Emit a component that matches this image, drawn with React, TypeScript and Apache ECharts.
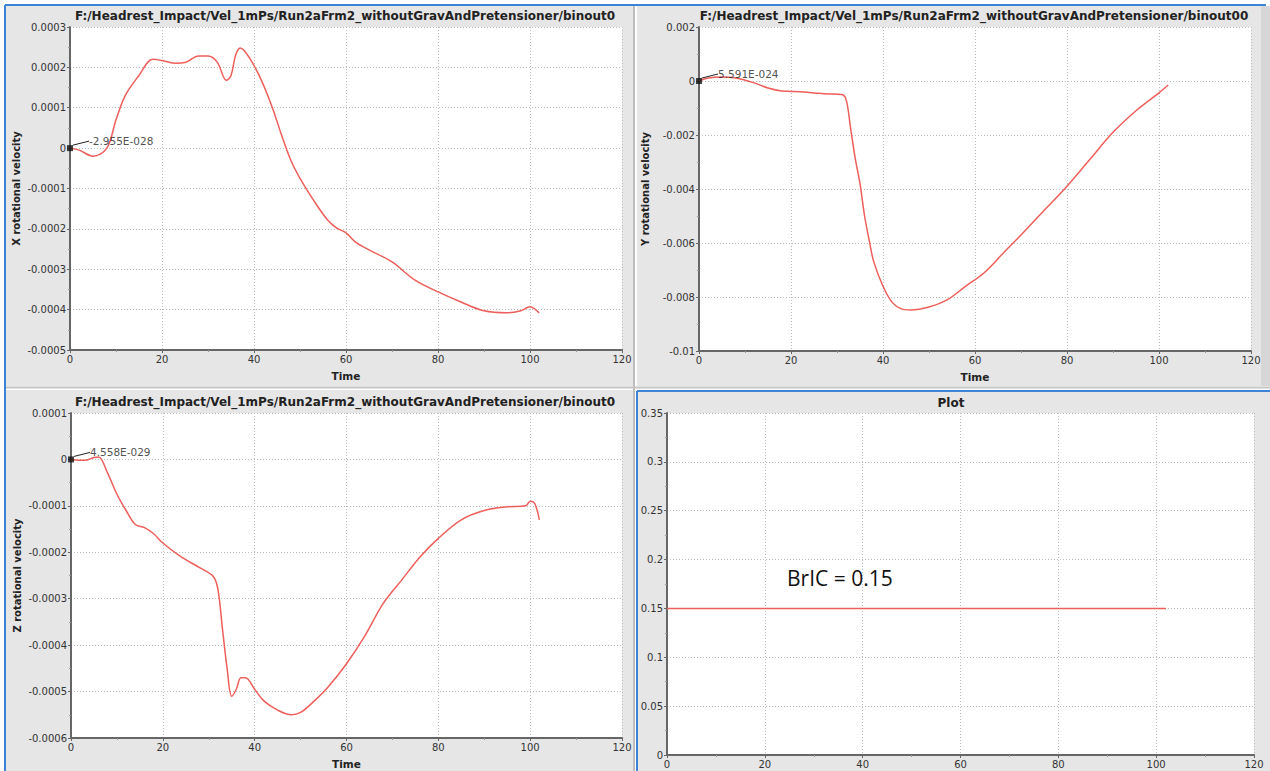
import React, { useEffect, useRef } from "react";
import * as echarts from "echarts";

// ---------- data ----------
const titleTop = "F:/Headrest_Impact/Vel_1mPs/Run2aFrm2_withoutGravAndPretensioner/binout0";
const titleTopRight = "F:/Headrest_Impact/Vel_1mPs/Run2aFrm2_withoutGravAndPretensioner/binout00";
const titlePlot = "Plot";

const xTicks = [0, 20, 40, 60, 80, 100, 120];

// X rotational velocity
const xRotTime = [0, 2, 5, 8, 10, 12, 15, 18, 20, 23, 25, 28, 30, 32, 34, 35, 36, 37, 38, 40, 42, 44, 46, 48, 50, 53, 56, 58, 60, 62, 65, 70, 75, 80, 85, 90, 95, 98, 100, 101, 102];
const xRotVal = [0, -0.000005, -0.00002, 0.0, 0.00007, 0.00013, 0.00018, 0.00022, 0.000217, 0.00021, 0.000212, 0.000228, 0.000228, 0.000213, 0.000168, 0.00018, 0.00023, 0.000248, 0.00024, 0.000205, 0.000158, 0.0001, 0.000032, -0.00003, -0.000075, -0.00013, -0.000178, -0.000198, -0.00021, -0.000232, -0.000252, -0.000282, -0.000327, -0.000356, -0.000381, -0.000403, -0.000408, -0.000403, -0.000393, -0.000398, -0.000408];

// Y rotational velocity
const yRotTime = [0, 2, 5, 8, 12, 15, 18, 22, 25, 28, 31, 32, 33, 34, 35, 36, 37, 38, 40, 42, 44, 46, 50, 54, 58, 62, 66, 70, 75, 80, 85, 90, 95, 100, 102];
const yRotVal = [0, 0.00011, 0.00015, 0.00011, -0.00007, -0.00026, -0.00037, -0.0004, -0.00044, -0.00048, -0.0005, -0.0007, -0.0018, -0.0029, -0.0038, -0.005, -0.0059, -0.0067, -0.0076, -0.0082, -0.00844, -0.00848, -0.00837, -0.0081, -0.0076, -0.0071, -0.0064, -0.0057, -0.0048, -0.0039, -0.0029, -0.0019, -0.0011, -0.00044, -0.00015];

// Z rotational velocity
const zRotTime = [0, 3, 5, 6, 8, 10, 12, 14, 16, 18, 20, 24, 28, 31, 32, 33, 34, 35, 36, 37, 38, 40, 42, 45, 48, 50, 53, 56, 60, 64, 68, 72, 76, 80, 85, 90, 95, 99, 100, 101, 102];
const zRotVal = [0, -0.000002, 0.000004, 0.000005, -0.00003, -0.000075, -0.00011, -0.00014, -0.000147, -0.00016, -0.00018, -0.00021, -0.000233, -0.000252, -0.00028, -0.000366, -0.00045, -0.00051, -0.000495, -0.00047, -0.00047, -0.000495, -0.00052, -0.00054, -0.00055, -0.000545, -0.00052, -0.00049, -0.00044, -0.00038, -0.00031, -0.00026, -0.00021, -0.00017, -0.00013, -0.00011, -0.000102, -0.0001, -0.00009, -0.000095, -0.00013];

// BrIC
const bricTime = [0, 102];
const bricVal = [0.15, 0.15];
const bricText = "BrIC = 0.15";

const annotations = ["-2.955E-028", "5.591E-024", "4.558E-029"];

const yNames = ["X rotational velocity", "Y rotational velocity", "Z rotational velocity"];

// ---------- styling ----------
const LINE = "#ee5f5b";
const AXIS = "#666";
const GRIDC = "#bdbdbd";
const PANEL = "#e6e6e6";
const BLUE = "#3d84d6";
const FONT = "DejaVu Sans";

const pairs = (t: number[], v: number[]) => t.map((x, i) => [x, v[i]]);

function xAxis(gridIndex: number, showName: boolean) {
  return {
    type: "value",
    gridIndex,
    min: xTicks[0],
    max: xTicks[xTicks.length - 1],
    interval: xTicks[1] - xTicks[0],
    name: showName ? "Time" : "",
    nameLocation: "middle",
    nameGap: 20,
    nameTextStyle: { fontFamily: FONT, fontWeight: "bold", fontSize: 10.5, color: "#222" },
    axisLine: { show: true, onZero: false, lineStyle: { color: AXIS, width: 2 } },
    axisTick: { show: true, length: 3, lineStyle: { color: AXIS } },
    minorTick: { show: true, splitNumber: 2, length: 2, lineStyle: { color: "#999" } },
    axisLabel: { fontFamily: FONT, fontSize: 10, color: "#333", margin: 4 },
    splitLine: { show: true, lineStyle: { color: GRIDC, type: [1, 2], width: 1 } },
  };
}

function yAxis(gridIndex: number, min: number, max: number, interval: number, name: string) {
  return {
    type: "value",
    gridIndex,
    min,
    max,
    interval,
    name,
    nameLocation: "middle",
    nameRotate: 90,
    nameGap: 49,
    nameTextStyle: { fontFamily: FONT, fontWeight: "bold", fontSize: 10, color: "#222" },
    axisLine: { show: true, onZero: false, lineStyle: { color: AXIS, width: 2 } },
    axisTick: { show: true, length: 3, lineStyle: { color: AXIS } },
    minorTick: { show: true, splitNumber: 2, length: 2, lineStyle: { color: "#999" } },
    axisLabel: { fontFamily: FONT, fontSize: 10, color: "#333", margin: 4 },
    splitLine: { show: true, lineStyle: { color: GRIDC, type: [1, 2], width: 1 } },
  };
}

function lineSeries(i: number, t: number[], v: number[]) {
  return {
    type: "line",
    xAxisIndex: i,
    yAxisIndex: i,
    data: pairs(t, v),
    showSymbol: false,
    smooth: 0.35,
    lineStyle: { color: LINE, width: 1.5 },
    z: 3,
  };
}

function annotSeries(i: number, text: string) {
  return {
    type: "scatter",
    xAxisIndex: i,
    yAxisIndex: i,
    data: [[xTicks[0], 0]],
    symbol: "rect",
    symbolSize: 6,
    itemStyle: { color: "#111" },
    z: 5,
    label: {
      show: true,
      position: "right",
      distance: 4,
      formatter: text,
      fontFamily: FONT,
      fontSize: 10.5,
      color: "#222",
    },
    labelLayout: { dx: 12, dy: -7 },
    labelLine: { show: true, lineStyle: { color: "#222", width: 1 } },
  };
}

export default function App() {
  const ref = useRef<HTMLDivElement>(null);
  useEffect(() => {
    if (!ref.current) return;
    const chart = echarts.init(ref.current, undefined, { renderer: "svg" });
    const grids = [
      { left: 70, top: 27, width: 552, height: 323 },
      { left: 699, top: 27, width: 552, height: 324 },
      { left: 71, top: 413, width: 551, height: 325 },
      { left: 667, top: 413, width: 587, height: 342 },
    ].map((g) => ({ ...g, show: true, backgroundColor: "#fff", borderWidth: 0, containLabel: false }));

    const titleStyle = { fontFamily: FONT, fontWeight: "bold", fontSize: 12, fill: "#222" };

    chart.setOption({
      animation: false,
      backgroundColor: "#fff",
      grid: grids,
      xAxis: [xAxis(0, true), xAxis(1, true), xAxis(2, true), xAxis(3, false)],
      yAxis: [
        yAxis(0, -0.0005, 0.0003, 0.0001, yNames[0]),
        yAxis(1, -0.01, 0.002, 0.002, yNames[1]),
        yAxis(2, -0.0006, 0.0001, 0.0001, yNames[2]),
        yAxis(3, 0, 0.35, 0.05, ""),
      ],
      series: [
        lineSeries(0, xRotTime, xRotVal),
        lineSeries(1, yRotTime, yRotVal),
        lineSeries(2, zRotTime, zRotVal),
        { ...lineSeries(3, bricTime, bricVal), smooth: false },
        annotSeries(0, annotations[0]),
        annotSeries(1, annotations[1]),
        annotSeries(2, annotations[2]),
      ],
      graphic: [
        // panel backgrounds
        { type: "rect", z: -10, shape: { x: 6, y: 6, width: 627, height: 380 }, style: { fill: PANEL } },
        { type: "rect", z: -10, shape: { x: 637, y: 6, width: 633, height: 380 }, style: { fill: PANEL } },
        { type: "rect", z: -10, shape: { x: 6, y: 390, width: 627, height: 381 }, style: { fill: PANEL } },
        { type: "rect", z: -10, shape: { x: 637, y: 390, width: 633, height: 381 }, style: { fill: PANEL } },
        { type: "rect", z: -10, shape: { x: 1261, y: 6, width: 9, height: 380 }, style: { fill: "#d6d6d6" } },
        // separators
        { type: "line", z: -9, shape: { x1: 634, y1: 6, x2: 634, y2: 771 }, style: { stroke: "#bdbdbd", lineWidth: 2 } },
        { type: "line", z: -9, shape: { x1: 6, y1: 387.5, x2: 1270, y2: 387.5 }, style: { stroke: "#c4c4c4", lineWidth: 2 } },
        // blue frames
        { type: "line", z: 100, shape: { x1: 5, y1: 5, x2: 1266, y2: 5 }, style: { stroke: BLUE, lineWidth: 2 } },
        { type: "line", z: 100, shape: { x1: 5, y1: 5, x2: 5, y2: 771 }, style: { stroke: BLUE, lineWidth: 2 } },
        { type: "line", z: 100, shape: { x1: 637, y1: 391, x2: 1270, y2: 391 }, style: { stroke: BLUE, lineWidth: 2 } },
        { type: "line", z: 100, shape: { x1: 637, y1: 391, x2: 637, y2: 771 }, style: { stroke: BLUE, lineWidth: 2 } },
        // titles
        { type: "text", x: 345, y: 16, style: { ...titleStyle, text: titleTop, textAlign: "center", textVerticalAlign: "middle" } },
        { type: "text", x: 974, y: 16, style: { ...titleStyle, text: titleTopRight, textAlign: "center", textVerticalAlign: "middle" } },
        { type: "text", x: 345, y: 402, style: { ...titleStyle, text: titleTop, textAlign: "center", textVerticalAlign: "middle" } },
        { type: "text", x: 951, y: 403, style: { ...titleStyle, text: titlePlot, textAlign: "center", textVerticalAlign: "middle" } },
        // BrIC label
        { type: "text", x: 787, y: 578, z: 50, style: { text: bricText, fontFamily: "Open Sans", fontSize: 21, fill: "#111", textAlign: "left", textVerticalAlign: "middle" } },
      ],
    });
    return () => chart.dispose();
  }, []);
  return <div ref={ref} style={{ position: "absolute", left: 0, top: 0, width: 1270, height: 771 }} />;
}
